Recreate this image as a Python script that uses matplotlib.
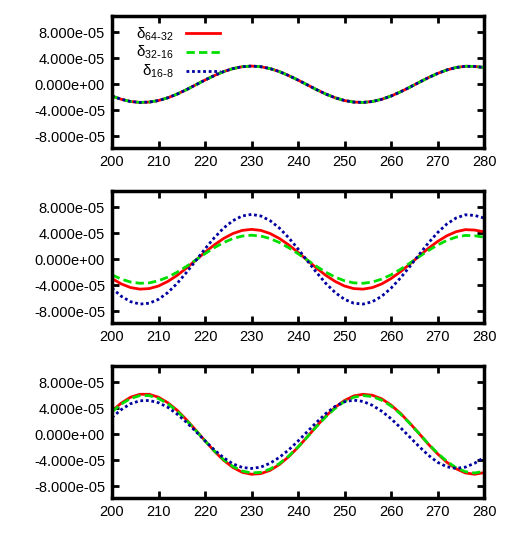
import matplotlib
matplotlib.use("Agg")
import matplotlib.pyplot as plt

plt.rcParams['font.family'] = ['Liberation Sans', 'DejaVu Sans']
plt.rcParams['mathtext.default'] = 'regular'

x = list(range(200, 281, 2))

# values in units of 1e-5
top_64 = [-1.81,-2.31,-2.65,-2.79,-2.74,-2.50,-2.08,-1.51,-0.83,-0.09,0.65,1.34,1.95,2.41,2.70,2.80,2.70,2.41,1.95,1.34,0.65,-0.09,-0.83,-1.51,-2.08,-2.50,-2.74,-2.79,-2.65,-2.31,-1.81,-1.18,-0.47,0.28,1.01,1.66,2.20,2.58,2.77,2.74,2.58]
top_32 = list(top_64)
top_16 = list(top_64)

mid_64 = [-2.97,-3.79,-4.35,-4.59,-4.51,-4.11,-3.41,-2.48,-1.36,-0.15,1.07,2.21,3.20,3.96,4.44,4.60,4.44,3.96,3.20,2.21,1.07,-0.15,-1.36,-2.48,-3.41,-4.11,-4.51,-4.59,-4.35,-3.79,-2.97,-1.94,-0.77,0.46,1.66,2.73,3.61,4.24,4.56,4.49,4.23]
mid_32 = [-2.39,-3.05,-3.50,-3.69,-3.63,-3.30,-2.75,-1.99,-1.10,-0.12,0.86,1.78,2.57,3.19,3.57,3.70,3.57,3.19,2.57,1.78,0.86,-0.12,-1.10,-1.99,-2.75,-3.30,-3.63,-3.69,-3.50,-3.05,-2.39,-1.56,-0.62,0.37,1.33,2.19,2.90,3.41,3.67,3.61,3.40]
mid_16 = [-4.45,-5.69,-6.52,-6.89,-6.76,-6.16,-5.12,-3.72,-2.04,-0.23,1.60,3.31,4.80,5.94,6.66,6.90,6.66,5.94,4.80,3.31,1.60,-0.23,-2.04,-3.72,-5.12,-6.16,-6.76,-6.89,-6.52,-5.69,-4.45,-2.90,-1.15,0.68,2.48,4.09,5.42,6.35,6.84,6.74,6.35]

bot_64 = [3.60,4.80,5.70,6.15,6.15,5.70,4.85,3.70,2.25,0.65,-1.00,-2.60,-4.00,-5.10,-5.85,-6.15,-6.05,-5.55,-4.65,-3.45,-2.00,-0.40,1.25,2.80,4.15,5.20,5.90,6.15,6.00,5.45,4.50,3.25,1.75,0.15,-1.50,-3.00,-4.30,-5.30,-5.95,-6.15,-5.90]
bot_32 = [3.45,4.65,5.50,5.95,5.95,5.50,4.70,3.55,2.15,0.60,-1.00,-2.55,-3.90,-4.95,-5.65,-5.95,-5.85,-5.35,-4.50,-3.35,-1.95,-0.40,1.20,2.70,4.00,5.05,5.70,5.95,5.80,5.25,4.35,3.15,1.70,0.15,-1.45,-2.90,-4.15,-5.15,-5.75,-5.95,-5.70]
bot_16 = [2.60,3.80,4.70,5.15,5.20,4.85,4.15,3.10,1.85,0.45,-1.00,-2.40,-3.60,-4.55,-5.10,-5.25,-5.05,-4.45,-3.55,-2.40,-1.05,0.40,1.85,3.20,4.30,5.00,5.25,5.05,4.45,3.55,2.40,1.05,-0.40,-1.85,-3.20,-4.30,-5.00,-5.25,-5.05,-4.45,-3.55]

labels = [r'$\delta_{64\mbox{-}32}$', r'$\delta_{32\mbox{-}16}$', r'$\delta_{16\mbox{-}8}$']
labels = [r'$\delta_{64\text{-}32}$', r'$\delta_{32\text{-}16}$', r'$\delta_{16\text{-}8}$']
yticks = [-8e-5, -4e-5, 0, 4e-5, 8e-5]
ytick_labels = ['-8.000e-05', '-4.000e-05', '0.000e+00', '4.000e-05', '8.000e-05']

W, H = 508, 535
fig = plt.figure(figsize=(W / 100, H / 100), dpi=100)
panels = [(top_64, top_32, top_16), (mid_64, mid_32, mid_16), (bot_64, bot_32, bot_16)]
tops = [16, 191, 366]
for i, (s1, s2, s3) in enumerate(panels):
    ax = fig.add_axes([112 / W, 1 - (tops[i] + 132) / H, 372 / W, 132 / H])
    ax.plot(x, [v * 1e-5 for v in s1], color='#ff0000', lw=2, label=labels[0])
    ax.plot(x, [v * 1e-5 for v in s2], color='#00e000', lw=2, ls=(0, (3, 1.5)), label=labels[1])
    ax.plot(x, [v * 1e-5 for v in s3], color='#0000a0', lw=2, ls=(0, (1, 1)), label=labels[2])
    ax.set_xlim(200, 280)
    ax.set_ylim(-9.8e-5, 1.05e-4)
    ax.set_xticks(range(200, 281, 10))
    ax.set_yticks(yticks)
    ax.set_yticklabels(ytick_labels)
    ax.tick_params(direction='in', length=5, width=2, top=True, right=True, labelsize=10.5, pad=5)
    for sp in ax.spines.values():
        sp.set_linewidth(2.5)
    if i == 0:
        leg = ax.legend(loc='upper left', frameon=False, markerfirst=False, fontsize=11,
                        handlelength=2.2, labelspacing=0.1, borderaxespad=0.2,
                        bbox_to_anchor=(0.04, 1.0))
        for t in leg.get_texts():
            t.set_ha('right')

fig.savefig('out.png', dpi=100)
